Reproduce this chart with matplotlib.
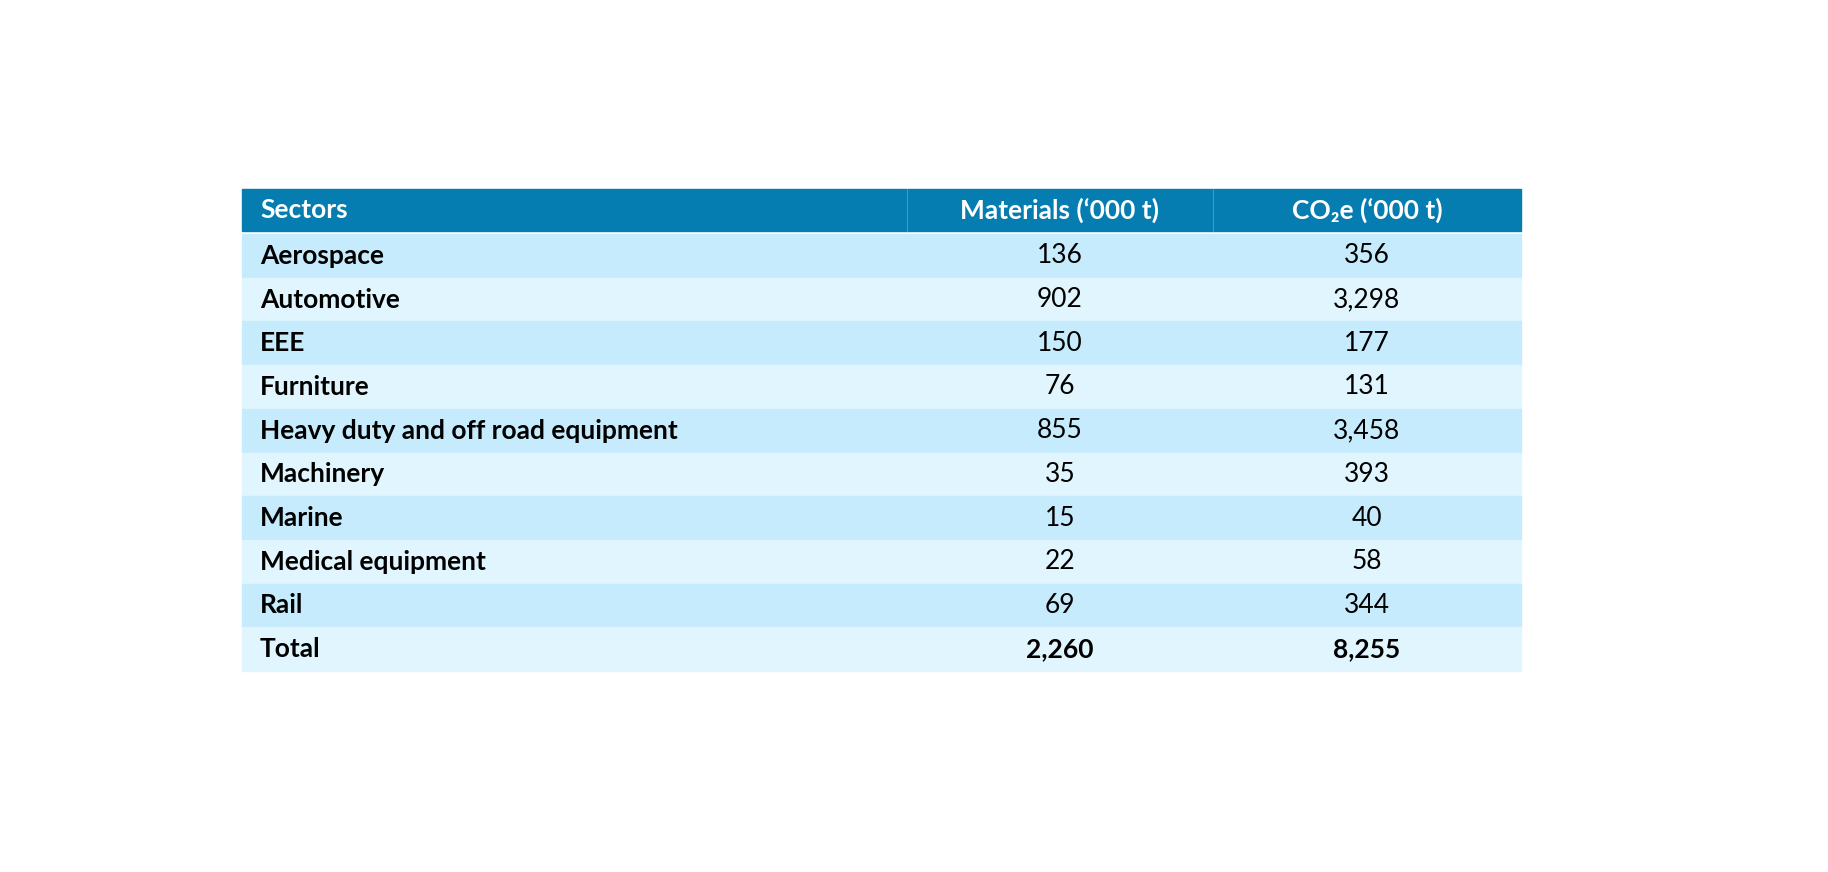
import matplotlib.pyplot as plt
from matplotlib.patches import Rectangle

sectors = ["Aerospace", "Automotive", "EEE", "Furniture",
           "Heavy duty and off road equipment", "Machinery", "Marine",
           "Medical equipment", "Rail", "Total"]
materials = ["136", "902", "150", "76", "855", "35", "15", "22", "69", "2,260"]
co2e = ["356", "3,298", "177", "131", "3,458", "393", "40", "58", "344", "8,255"]
headers = ["Sectors", "Materials (\u2018000 t)", "CO\u2082e (\u2018000 t)"]

fam = ["Lato", "DejaVu Sans"]
fig = plt.figure(figsize=(18.28, 8.72), dpi=100)
ax = fig.add_axes([0, 0, 1, 1])
ax.set_xlim(0, 1828)
ax.set_ylim(872, 0)
ax.axis("off")

x0, x1, x2, x3 = 242, 907, 1213, 1521
hy, hh = 189, 42
ry, rh = 234, 43.7

ax.add_patch(Rectangle((x0, hy), x3 - x0, hh, color="#067DB1"))
ax.plot([x1, x1], [hy, hy + hh], color="#3d9cc7", lw=0.8)
ax.plot([x2, x2], [hy, hy + hh], color="#3d9cc7", lw=0.8)
ax.text(x0 + 18, hy + hh / 2, headers[0], color="white", fontsize=19,
        fontweight="bold", family=fam, va="center")
ax.text((x1 + x2) / 2, hy + hh / 2, headers[1], color="white", fontsize=19,
        fontweight="bold", family=fam, va="center", ha="center")
ax.text((x2 + x3) / 2, hy + hh / 2, headers[2], color="white", fontsize=19,
        fontweight="bold", family=fam, va="center", ha="center")

for i, (s, m, c) in enumerate(zip(sectors, materials, co2e)):
    y = ry + i * rh
    ax.add_patch(Rectangle((x0, y), x3 - x0, rh,
                           color="#C6EBFC" if i % 2 == 0 else "#E0F5FD"))
    bold = "bold" if s == "Total" else "normal"
    ax.text(x0 + 18, y + rh / 2, s, fontsize=19, fontweight="bold",
            family=fam, va="center", color="black")
    ax.text((x1 + x2) / 2, y + rh / 2, m, fontsize=19, fontweight=bold,
            family=fam, va="center", ha="center", color="black")
    ax.text((x2 + x3) / 2, y + rh / 2, c, fontsize=19, fontweight=bold,
            family=fam, va="center", ha="center", color="black")

fig.savefig("out.png", dpi=100, facecolor="white")
